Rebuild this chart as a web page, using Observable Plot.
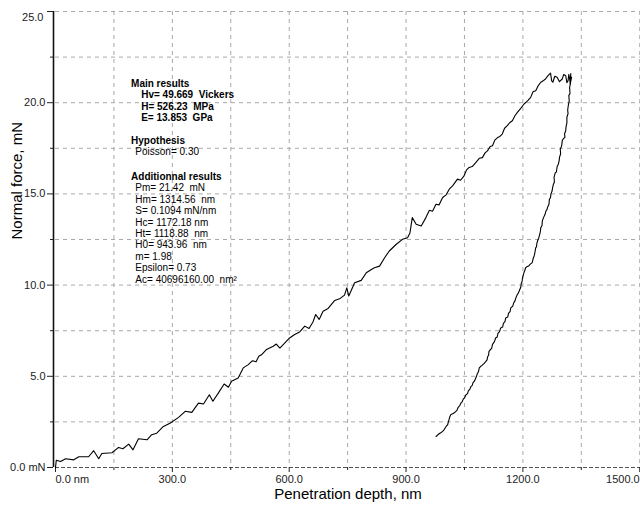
<!DOCTYPE html>
<html>
<head>
<meta charset="utf-8">
<script src="https://cdn.jsdelivr.net/npm/d3@7"></script>
<script src="https://cdn.jsdelivr.net/npm/@observablehq/plot@0.6"></script>
<style>
  html, body { margin: 0; padding: 0; background: #fff; }
  svg text { white-space: pre; }
</style>
</head>
<body>
<div id="chart"></div>
<script>
// ---- data: [penetration depth (nm), normal force (mN)] ----
const loading = [[0,0],[2,0.40],[13,0.33],[26,0.48],[47,0.42],[60,0.59],[85,0.59],[98,0.92],[111,0.48],[119,0.77],[145,0.81],[162,1.10],[173,1.03],[188,1.28],[199,0.97],[213,1.58],[235,1.52],[247,1.80],[260,1.88],[277,2.25],[294,2.43],[316,2.75],[333,3.08],[350,3.02],[367,3.53],[380,3.48],[395,3.99],[404,3.63],[418,4.08],[433,4.58],[444,4.40],[452,4.73],[469,4.91],[482,5.46],[495,5.64],[505,5.85],[515,5.80],[522,6.10],[530,6.20],
[542,6.47],[559,6.65],[567,6.77],[576,6.55],[589,6.83],[601,7.10],[614,7.29],[627,7.43],[640,7.75],[651,7.62],[661,7.98],[668,8.39],[677,8.12],[687,8.57],[700,8.72],[717,9.16],[731,9.27],[742,9.45],[748,9.85],[753,9.40],[768,10.13],[785,10.26],[798,10.68],[811,10.86],[819,10.95],[832,11.04],[845,11.50],[857,11.87],[875,12.24],[891,12.51],[904,12.60],[910,12.85],[916,13.70],[926,13.34],[939,13.24],[951,13.70],
[960,14.10],[968,14.05],[977,14.43],[985,14.40],[994,14.80],[1003,14.95],[1011,15.26],[1020,15.45],[1032,15.81],[1040,15.75],[1049,15.99],[1055,16.30],[1062,16.45],[1070,16.50],[1079,16.72],[1088,16.95],[1096,16.99],[1103,17.25],[1109,17.36],[1116,17.60],[1122,17.64],[1128,17.95],[1135,18.09],[1141,18.15],[1147,18.28],[1153,18.60],[1160,18.74],[1166,18.90],[1173,19.01],[1180,19.30],[1186,19.47],[1195,19.70],[1203,19.93],[1212,20.10],[1220,20.29],[1226,20.60],[1233,20.66],[1240,20.95],[1246,21.12],[1252,21.20],[1258,21.30],[1265,21.50],[1271,21.62],[1274,21.20],[1277,21.12],[1282,21.45],[1288,21.39],[1294,21.15],[1301,21.30],[1305,21.55],[1310,21.48],[1313,21.10],[1316,21.21],[1318,21.55],[1320,21.30],[1322,21.00]];
const unloading = [[1323,21.60],[1321,21.05],[1325,21.40],[1320,20.84],[1321,20.50],[1318,20.40],[1319,20.10],[1317,19.90],[1315,19.60],[1316,19.40],[1313,19.20],[1313,18.90],[1311,18.70],[1310,18.46],[1307,18.30],[1308,18.10],[1303,18.00],[1301,17.91],[1300,17.70],[1299,17.60],[1296,17.45],[1297,17.20],[1294,17.00],[1293,16.80],[1291,16.63],[1288,16.50],[1286,16.20],[1283,16.15],[1280,15.90],[1281,15.65],[1278,15.50],[1276,15.30],[1275,15.16],[1272,15.00],[1271,14.80],[1268,14.70],[1267,14.43],[1264,14.30],[1262,14.15],[1259,14.05],[1257,13.88],[1253,13.70],[1250,13.52],[1249,13.25],[1246,13.15],[1245,12.95],[1244,12.85],[1241,12.60],[1239,12.50],[1236,12.30],[1235,12.10],[1233,12.05],[1231,11.80],[1229,11.60],[1227,11.50],[1224,11.23],[1219,11.15],[1215,11.05],[1210,11.00],[1207,10.95],[1205,10.80],[1203,10.70],[1201,10.55],[1199,10.40],[1198,10.20],[1196,10.10],[1195,9.95],[1194,9.85],[1190,9.65],[1188,9.55],[1186,9.50],[1182,9.30],[1180,9.15],[1176,9.00],[1174,8.85],[1169,8.75],[1167,8.55],[1163,8.45],[1161,8.25],[1156,8.20],[1154,8.00],[1150,7.90],[1148,7.70],[1143,7.65],[1140,7.45],[1136,7.35],[1134,7.15],[1130,7.10],[1127,6.90],[1122,6.75],[1120,6.55],[1113,6.37],[1112,6.15],[1110,6.10],[1108,5.90],[1105,5.82],[1100,5.70],[1095,5.60],[1092,5.55],[1088,5.46],[1086,5.25],[1083,5.15],[1081,5.00],[1079,4.91],[1076,4.75],[1072,4.65],[1070,4.50],[1067,4.45],[1064,4.30],[1060,4.20],[1058,4.05],[1054,3.99],[1051,3.85],[1047,3.75],[1044,3.60],[1041,3.53],[1038,3.40],[1034,3.30],[1031,3.15],[1028,3.08],[1024,3.00],[1020,2.95],[1015,2.90],[1012,2.75],[1010,2.60],[1008,2.45],[1007,2.35],[1003,2.25],[1000,2.15],[997,2.05],[994,1.98],[990,1.92],[985,1.85],[981,1.78],[977,1.70]];

const xTicks = [0, 300, 600, 900, 1200, 1500];
const xTickLabels = ["0.0 nm", "300.0", "600.0", "900.0", "1200.0", "1500.0"];
const xMinorTicks = [150, 450, 750, 1050, 1350];
const yTicks = [0, 5, 10, 15, 20, 25];
const yTickLabels = ["0.0 mN", "5.0", "10.0", "15.0", "20.0", "25.0"];
const yMinorTicks = [2.5, 7.5, 12.5, 17.5, 22.5];

const xTitle = "Penetration depth, nm";
const yTitle = "Normal force, mN";

const mainResults = ["Main results", "Hv= 49.669  Vickers", "H= 526.23  MPa", "E= 13.853  GPa"];
const hypothesis = ["Hypothesis", "Poisson= 0.30"];
const additional = ["Additionnal results", "Pm= 21.42  mN", "Hm= 1314.56  nm", "S= 0.1094 mN/nm", "Hc= 1172.18 nm", "Ht= 1118.88  nm", "H0= 943.96  nm", "m= 1.98", "Epsilon= 0.73", "Ac= 40696160.00  nm²"];

// ---- build ----
const curve = [...loading, ...unloading].map(([d, f]) => ({depth: d, force: f}));
const step = 0.627;
function group(lines, yStart, xHead, xBody, boldBody) {
  return lines.map((t, i) => ({text: t, x: i === 0 ? xHead : xBody, y: yStart - i * step, bold: i === 0 || boldBody}));
}
const ann = [
  ...group(mainResults, 21.04, 194, 220, true),
  ...group(hypothesis, 17.92, 194, 205, false),
  ...group(additional, 15.95, 194, 205, false)
];
const xLab = (d) => xTickLabels[xTicks.indexOf(d)];
const yLab = (d) => yTickLabels[yTicks.indexOf(d)];
const font = "'Liberation Sans', Arial, sans-serif";
const gridStyle = {stroke: "#a8a8a8", strokeOpacity: 1, strokeDasharray: "4,4", strokeWidth: 1};

const chart = Plot.plot({
  width: 640,
  height: 514,
  marginLeft: 55,
  marginRight: 0,
  marginTop: 11,
  marginBottom: 47,
  x: {domain: [0, 1502]},
  y: {domain: [0, 25]},
  style: {fontFamily: font, fontSize: "11px", background: "#fff", color: "#222", overflow: "visible"},
  marks: [
    Plot.gridX([...xTicks.slice(1), ...xMinorTicks], gridStyle),
    Plot.gridY([...yTicks.slice(1), ...yMinorTicks], gridStyle),
    Plot.ruleY([0], {stroke: "#555", strokeDasharray: "4,2", strokeWidth: 1.2}),
    Plot.ruleX([0], {y1: 0, y2: 25, dx: -2, stroke: "#111", strokeWidth: 1.6}),
    Plot.axisY(yTicks.slice(0, 5), {tickSize: 6, tickPadding: 2, dx: -2, tickFormat: yLab, label: null, fill: "#222"}),
    Plot.axisY([25], {tickSize: 6, tickPadding: 2, dx: -2, tickFormat: () => "", label: null}),
    Plot.axisY([25], {tickSize: 0, tickPadding: 10, dx: -2, dy: 6, tickFormat: yLab, label: null, fill: "#222"}),
    Plot.axisY(yMinorTicks, {tickSize: 3, dx: -2, tickFormat: () => "", label: null}),
    Plot.axisX(xTicks.slice(1, 5), {tickSize: 5, tickPadding: 3, tickFormat: xLab, label: null, fill: "#222"}),
    Plot.axisX([0], {tickSize: 5, tickPadding: 3, tickFormat: xLab, textAnchor: "start", label: null, fill: "#222"}),
    Plot.axisX([1500], {tickSize: 5, tickPadding: 3, tickFormat: xLab, textAnchor: "end", label: null, fill: "#222"}),
    Plot.axisX(xMinorTicks, {tickSize: 3, tickFormat: () => "", label: null}),
    Plot.line(curve, {x: "depth", y: "force", stroke: "#000", strokeWidth: 1.1, curve: "linear"}),
    Plot.text(ann.filter(d => d.bold), {x: "x", y: "y", text: "text", textAnchor: "start", fontSize: 10, fontWeight: "bold", fill: "#000"}),
    Plot.text(ann.filter(d => !d.bold), {x: "x", y: "y", text: "text", textAnchor: "start", fontSize: 10, fill: "#000"}),
    Plot.text([xTitle], {text: d => d, frameAnchor: "bottom", dy: 31, fontSize: 15, fill: "#000"}),
    Plot.text([yTitle], {text: d => d, frameAnchor: "left", rotate: -90, dx: -38, fontSize: 15, fill: "#000"})
  ]
});
document.getElementById("chart").appendChild(chart);
</script>
</body>
</html>
